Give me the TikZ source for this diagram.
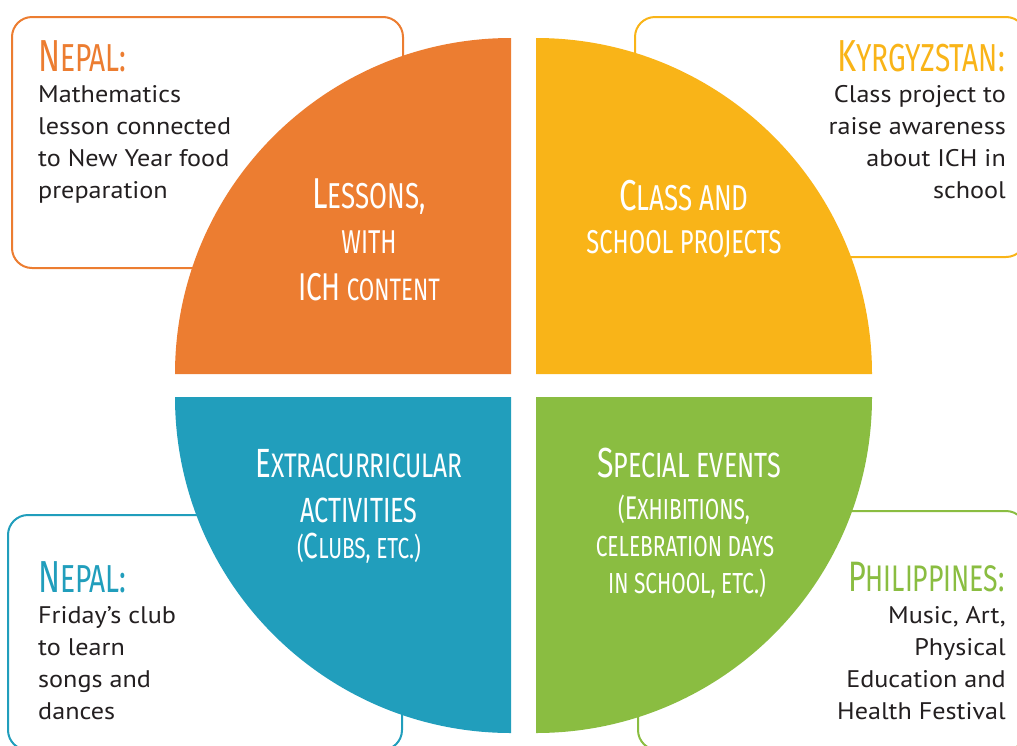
\documentclass[tikz,border=0pt]{standalone}
\usepackage{fontspec}
\usepackage{graphicx}
\setmainfont[FakeStretch=1.09]{PT Sans}
\newfontfamily\hand[FakeStretch=0.72]{Fira Sans}
\definecolor{cor}{RGB}{236,125,49}
\definecolor{cye}{RGB}{249,180,24}
\definecolor{cbl}{RGB}{33,158,188}
\definecolor{cgr}{RGB}{138,189,65}
\definecolor{ink}{RGB}{35,31,32}
\newcommand\Bg[2][1.2]{\scalebox{#1}{#2}}
\tikzset{
  box/.style={line width=2pt, rounded corners=20pt, fill=white},
  head/.style={font=\hand\fontsize{39}{39}\selectfont, inner sep=0pt},
  body/.style={font=\fontsize{24}{32}\selectfont, text=ink, inner sep=0pt},
  qt/.style={text=white, inner sep=0pt, anchor=base},
}
\begin{document}
\begin{tikzpicture}[x=1pt,y=-1pt]
\useasboundingbox (0,0) rectangle (1017,745);
% boxes
\draw[box, draw=cor] (12,17) rectangle (403,268);
\draw[box, draw=cye] (635,17) rectangle (1026,257);
\draw[box, draw=cbl] (8,515) rectangle (402,750);
\draw[box, draw=cgr] (638,511) rectangle (1026,750);
% quadrants
\fill[cor] (511,374) -- (175,374) arc[start angle=180, end angle=270, radius=336] -- cycle;
\fill[cye] (536,374) -- (536,38) arc[start angle=270, end angle=360, radius=336] -- cycle;
\fill[cgr] (536,397) -- (872,397) arc[start angle=0, end angle=90, radius=336] -- cycle;
\fill[cbl] (511,397) -- (511,733) arc[start angle=90, end angle=180, radius=336] -- cycle;
% box texts
\node[head, text=cor, anchor=base west] (h1) at (38,71) {\Bg[1.15]{N}EPAL:};
\node[body, anchor=base west] (b1) at (38,102) {\begin{tabular}[t]{@{}l@{}}Mathematics\\lesson connected\\to New Year food\\preparation\end{tabular}};
\node[head, text=cye, anchor=base east] (h2) at (1005,71) {\Bg[1.15]{K}YRGYZSTAN:};
\node[body, anchor=base east] (b2) at (1006,102) {\begin{tabular}[t]{@{}r@{}}Class project to\\raise awareness\\about ICH in\\school\end{tabular}};
\node[head, text=cbl, anchor=base west] (h3) at (38,592) {\Bg[1.15]{N}EPAL:};
\node[body, anchor=base west] (b3) at (38,623) {\begin{tabular}[t]{@{}l@{}}Friday\char"27 s club\\to learn\\songs and\\dances\end{tabular}};
\node[head, text=cgr, anchor=base east, font=\hand\fontsize{37}{37}\selectfont] (h4) at (1005,591) {\Bg[1.15]{P}HILIPPINES:};
\node[body, anchor=base east] (b4) at (1006,623) {\begin{tabular}[t]{@{}r@{}}Music, Art,\\Physical\\Education and\\Health Festival\end{tabular}};
% quadrant texts
\node[qt, font=\hand\fontsize{36}{36}\selectfont] (o1) at (369,208) {\Bg{L}ESSONS,};
\node[qt, font=\hand\fontsize{33}{33}\selectfont] (o2) at (369,253) {WITH};
\node[qt, font=\hand\fontsize{31}{31}\selectfont] (o3) at (369,300) {\Bg[1.25]{ICH} CONTENT};
\node[qt, font=\hand\fontsize{36}{36}\selectfont] (y1) at (684,210) {\Bg{C}LASS AND};
\node[qt, font=\hand\fontsize{33}{33}\selectfont] (y2) at (684,253) {SCHOOL PROJECTS};
\node[qt, font=\hand\fontsize{34}{34}\selectfont] (l1) at (359,477) {\Bg{E}XTRACURRICULAR};
\node[qt, font=\hand\fontsize{35}{35}\selectfont] (l2) at (359,522) {ACTIVITIES};
\node[qt, font=\hand\fontsize{29}{29}\selectfont] (l3) at (359,558) {(\Bg[1.25]{C}LUBS, ETC.)};
\node[qt, font=\hand\fontsize{35}{35}\selectfont] (g1) at (689,477) {\Bg{S}PECIAL EVENTS};
\node[qt, font=\hand\fontsize{29}{29}\selectfont] (g2) at (684,519) {(\Bg[1.13]{E}XHIBITIONS,};
\node[qt, font=\hand\fontsize{29}{29}\selectfont] (g3) at (685,556) {CELEBRATION DAYS};
\node[qt, font=\hand\fontsize{29}{29}\selectfont] (g4) at (687,593) {IN SCHOOL, ETC.)};
\end{tikzpicture}
\end{document}
